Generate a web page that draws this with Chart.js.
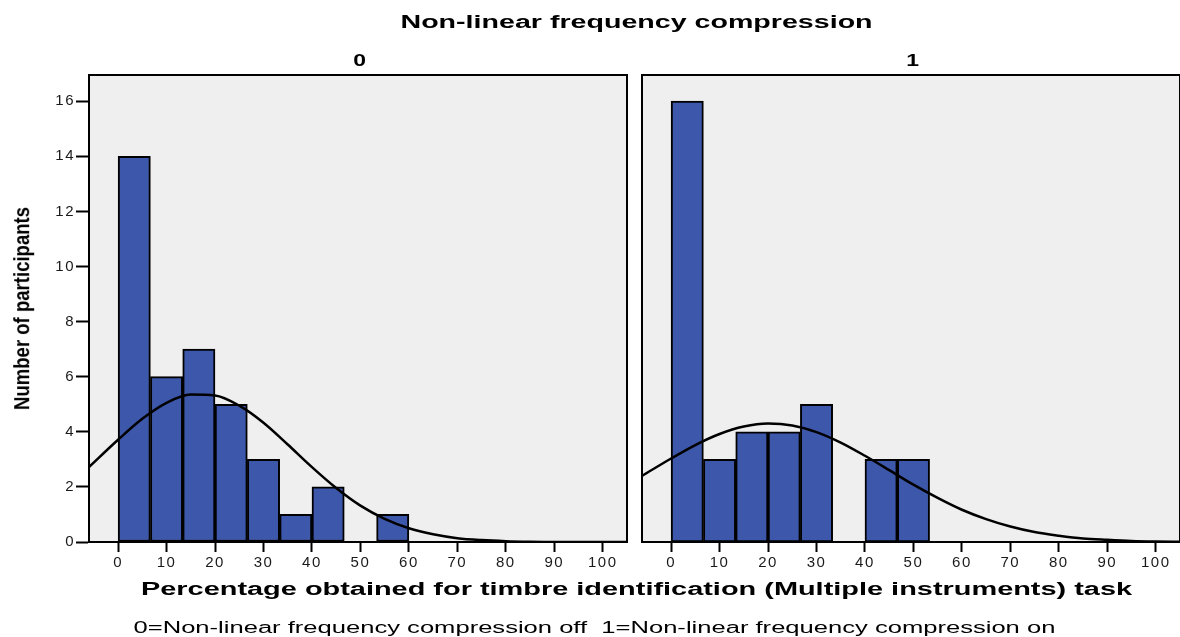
<!DOCTYPE html>
<html>
<head>
<meta charset="utf-8">
<script src="https://cdn.jsdelivr.net/npm/chart.js@4/dist/chart.umd.min.js"></script>
<style>
  html, body { margin: 0; padding: 0; background: #fff; }
  #wrap { position: relative; width: 1180px; height: 637px; overflow: hidden;
          font-family: "Liberation Sans", Arial, sans-serif; color: #000; }
  canvas { position: absolute; top: 0; }
  #cv0 { left: 0; }
  #cv1 { left: 634px; }
  .txt { position: absolute; white-space: nowrap; line-height: 1; transform-origin: center center; z-index: 2; }
</style>
</head>
<body>
<div id="wrap">
  <canvas id="cv0" width="634" height="637"></canvas>
  <canvas id="cv1" width="546" height="637"></canvas>
  <div class="txt" id="tTitle" style="font-weight:bold;font-size:18px">Non-linear frequency compression</div>
  <div class="txt" id="tPanel0" style="font-weight:bold;font-size:17px"></div>
  <div class="txt" id="tPanel1" style="font-weight:bold;font-size:17px"></div>
  <div class="txt" id="tY" style="font-weight:bold;font-size:17px">Number of participants</div>
  <div class="txt" id="tX" style="font-weight:bold;font-size:18px">Percentage obtained for timbre identification (Multiple instruments) task</div>
  <div class="txt" id="tNote" style="font-size:16px">0=Non-linear frequency compression off&nbsp;&nbsp;1=Non-linear frequency compression on</div>
</div>
<script>
// Histogram bins (lower edges, % correct) and counts per panel
const binLower = [0, 6.67, 13.33, 20, 26.67, 33.33, 40, 46.67, 53.33];
const binWidth = 6.67;
const countsOff = [14, 6, 7, 5, 3, 1, 2, 0, 1];
const countsOn  = [16, 3, 4, 4, 5, 0, 3, 3, 0];

// Fitted normal curves, sampled along the x axis
const curveX   = [-6, 0, 5, 10, 15, 20, 25, 30, 35, 40, 45, 50, 55, 60, 65, 70, 75, 80, 85, 90, 95, 100, 105];
const curveOff = [2.72, 3.71, 4.47, 5.05, 5.35, 5.32, 4.95, 4.33, 3.54, 2.72, 1.96, 1.32, 0.84, 0.50, 0.28, 0.14, 0.07, 0.03, 0.01, 0, 0, 0, 0];
const curveOn  = [2.40, 3.03, 3.52, 3.92, 4.19, 4.30, 4.23, 3.99, 3.61, 3.13, 2.61, 2.08, 1.60, 1.17, 0.83, 0.56, 0.36, 0.23, 0.13, 0.08, 0.04, 0.02, 0.01];

// Axis ticks and panel labels
const xTicks = [0, 10, 20, 30, 40, 50, 60, 70, 80, 90, 100];
const yTicks = [0, 2, 4, 6, 8, 10, 12, 14, 16];
const panelLabels = ['0', '1'];

const X_MIN = -6, X_MAX = 105, Y_MAX = 16.95;
const BAR_FILL = 'rgb(61,88,171)';
const PLOT_BG = '#efefef';
const FONT = '"Liberation Sans", Arial, sans-serif';
const TICK_SPACING = '1.5px';

// Grey plot background and black frame round the plot area
const framePlugin = {
  id: 'frame',
  beforeUpdate(chart) { chart.ctx.letterSpacing = TICK_SPACING; },
  beforeDraw(chart) {
    const { ctx, chartArea: a } = chart;
    ctx.letterSpacing = TICK_SPACING;
    ctx.save();
    ctx.fillStyle = PLOT_BG;
    ctx.fillRect(a.left, a.top, a.right - a.left, a.bottom - a.top);
    ctx.restore();
  },
  afterDatasetsDraw(chart) {
    const { ctx, chartArea: a } = chart;
    ctx.save();
    ctx.strokeStyle = '#000';
    ctx.lineWidth = 2;
    ctx.strokeRect(a.left, a.top, a.right - a.left, a.bottom - a.top);
    ctx.restore();
  }
};

function barPoints(counts) {
  return binLower
    .map((lo, i) => ({ x: lo + binWidth / 2, y: counts[i] }))
    .filter(p => p.y > 0);
}

function makePanel(canvasId, counts, curve, showY, padding) {
  return new Chart(document.getElementById(canvasId), {
    type: 'bar',
    data: {
      datasets: [
        {
          type: 'line',
          data: curveX.map((x, i) => ({ x, y: curve[i] })),
          borderColor: '#000',
          borderWidth: 2.5,
          pointRadius: 0,
          fill: false,
          cubicInterpolationMode: 'monotone',
          order: 0
        },
        {
          type: 'bar',
          data: barPoints(counts),
          backgroundColor: BAR_FILL,
          borderColor: '#000',
          borderWidth: 2,
          borderSkipped: false,
          barPercentage: 1,
          categoryPercentage: 1,
          order: 1
        }
      ]
    },
    options: {
      responsive: false,
      animation: false,
      layout: { padding },
      plugins: { legend: { display: false }, tooltip: { enabled: false }, title: { display: false } },
      scales: {
        x: {
          type: 'linear',
          min: X_MIN, max: X_MAX,
          offset: false,
          afterBuildTicks: s => { s.ticks = xTicks.map(v => ({ value: v })); },
          afterFit: s => { s.height = 95; },
          grid: { offset: false, drawOnChartArea: false, drawTicks: true, tickLength: 10, tickWidth: 2, tickColor: '#000' },
          border: { display: true, color: '#000', width: 2 },
          ticks: { color: '#1a1a1a', font: { family: FONT, size: 15 }, padding: 2, maxRotation: 0, autoSkip: false }
        },
        y: {
          type: 'linear',
          display: showY,
          min: 0, max: Y_MAX,
          afterBuildTicks: s => { s.ticks = yTicks.map(v => ({ value: v })); },
          afterFit: s => { s.width = showY ? 89 : 0; },
          grid: { drawOnChartArea: false, drawTicks: true, tickLength: 13, tickWidth: 2, tickColor: '#000' },
          border: { display: true, color: '#000', width: 2 },
          ticks: { color: '#1a1a1a', font: { family: FONT, size: 15 }, padding: 1 }
        }
      }
    },
    plugins: [framePlugin]
  });
}

makePanel('cv0', countsOff, curveOff, true,  { top: 75, right: 7, bottom: 0, left: 0 });
makePanel('cv1', countsOn,  curveOn,  false, { top: 75, right: 0, bottom: 0, left: 8 });

// Text placement: centre each label and stretch it to its span
function place(id, cx, cy, opts) {
  const el = document.getElementById(id);
  const w = el.offsetWidth, h = el.offsetHeight;
  el.style.left = (cx - w / 2) + 'px';
  el.style.top = (cy - h / 2) + 'px';
  if (opts.rotate) {
    el.style.transform = 'rotate(-90deg) scale(' + (opts.length / w) + ',' + opts.thick + ')';
  } else if (opts.width) {
    el.style.transform = 'scaleX(' + (opts.width / w) + ')';
  } else if (opts.sx) {
    el.style.transform = 'scaleX(' + opts.sx + ')';
  }
}
document.getElementById('tPanel0').textContent = panelLabels[0];
document.getElementById('tPanel1').textContent = panelLabels[1];
place('tTitle', 636, 22, { width: 472 });
place('tPanel0', 359, 60, { sx: 1.35 });
place('tPanel1', 912, 60, { sx: 1.35 });
place('tY', 22, 308, { rotate: true, length: 203, thick: 1.25 });
place('tX', 636, 589, { width: 991 });
place('tNote', 594, 628, { width: 922 });
</script>
</body>
</html>
